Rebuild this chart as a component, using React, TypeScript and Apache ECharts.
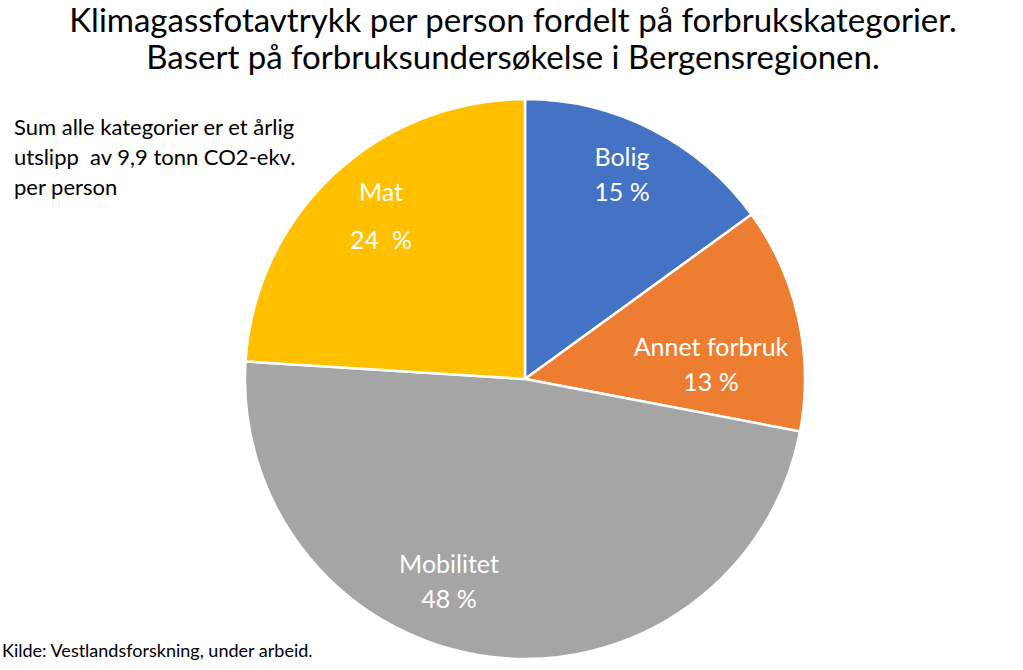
import React, { useEffect, useRef } from "react";
import * as echarts from "echarts";

const categories = ["Bolig", "Annet forbruk", "Mobilitet", "Mat"];
const values = [15, 13, 48, 24];
const percentLabels = ["15 %", "13 %", "48 %", "24  %"];
const colors = ["#4472C4", "#ED7D31", "#A5A5A5", "#FFC000"];
const titleLines = [
  "Klimagassfotavtrykk per person fordelt på forbrukskategorier.",
  "Basert på forbruksundersøkelse i Bergensregionen.",
];
const noteLines = [
  "Sum alle kategorier er et årlig",
  "utslipp  av 9,9 tonn CO2-ekv.",
  "per person",
];
const sourceText = "Kilde: Vestlandsforskning, under arbeid.";

// label placement (pixel centres of the in-slice labels)
const labelPos = [
  [622, 173],
  [711, 363],
  [449, 580],
  [381, 215],
];

const FONT = "Lato, 'Open Sans', sans-serif";

export default function App() {
  const ref = useRef<HTMLDivElement>(null);
  useEffect(() => {
    if (!ref.current) return;
    const chart = echarts.init(ref.current, undefined, { renderer: "svg" });
    chart.setOption({
      animation: false,
      backgroundColor: "#ffffff",
      title: {
        text: titleLines.join("\n"),
        left: 513,
        top: 0,
        padding: 0,
        textAlign: "center",
        textStyle: {
          fontFamily: FONT,
          fontSize: 33,
          fontWeight: "normal",
          color: "#000",
          lineHeight: 37,
        },
      },
      graphic: [
        {
          type: "text",
          left: 14,
          top: 111,
          style: {
            text: noteLines.join("\n"),
            font: `22px ${FONT}`,
            lineHeight: 30,
            fill: "#000",
          },
        },
        {
          type: "text",
          left: 2,
          top: 641,
          style: {
            text: sourceText,
            font: `18px ${FONT}`,
            fill: "#000",
          },
        },
      ],
      series: [
        {
          type: "pie",
          center: [525, 379],
          radius: 280,
          startAngle: 90,
          clockwise: true,
          label: {
            show: true,
            position: "inside",
            color: "#fff",
            fontFamily: FONT,
            fontSize: 25,
            lineHeight: 35,
            align: "center",
          },
          labelLine: { show: false },
          labelLayout: (params: any) => {
            const p = labelPos[params.dataIndex];
            return { x: p[0], y: p[1], align: "center", verticalAlign: "middle" };
          },
          itemStyle: { borderColor: "#fff", borderWidth: 2.5 },
          data: categories.map((c, i) => ({
            name: c,
            value: values[i],
            itemStyle: { color: colors[i] },
            label: {
              formatter: c + "\n" + percentLabels[i],
              lineHeight: i === 3 ? 48 : 35,
            },
          })),
        },
      ],
    });
    return () => chart.dispose();
  }, []);
  return (
    <div
      ref={ref}
      style={{ position: "absolute", left: 0, top: 0, width: 1023, height: 670 }}
    />
  );
}
